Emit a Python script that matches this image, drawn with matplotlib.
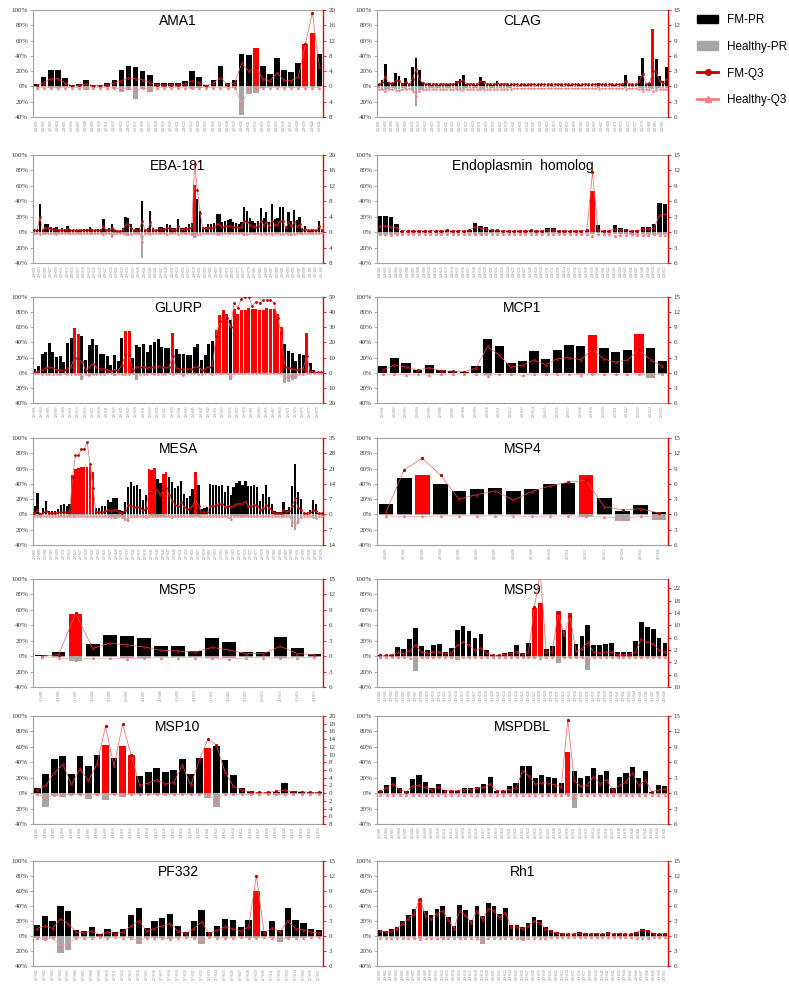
import matplotlib.pyplot as plt
import numpy as np
from matplotlib.patches import Patch
from matplotlib.lines import Line2D

plt.rcParams['font.family'] = ['Liberation Serif', 'DejaVu Serif']

# -------------------------------
# data: FM-PR / Healthy-PR in %, FM-Q3 / Healthy-Q3 on the right axis
# -------------------------------

ama1_fm_pr = [3,12,22,22,11,2,3,8,2,2, 5,9,21,27,26,20,15,5,5,5, 4,7,20,12,2,9,27,5,9,43,
              41,50,27,16,37,21,19,31,55,70, 43]
ama1_h_pr = [-1,-1,-2,-2,-1,-1,-1,-5,-1,-1, -1,-4,-7,-5,-16,-4,-7,-1,-1,-1, -1,-1,-4,-2,-1,-1,-1,-1,-2,-38,
             -10,-8,-2,-1,-1,-1,-2,-1,-1,-1, -1]
ama1_fm_q3 = [0.3,1,2,2,1,0.2,0.3,0.7,0.2,0.2, 0.5,0.9,1.5,2.2,2,1.8,1,0.4,0.4,0.4, 0.3,0.6,1.5,1,0.2,0.8,2.3,0.4,0.9,6,
              4,5,2,1.5,3.5,1.6,1.5,2.5,11,19.3, 5]
ama1_h_q3 = [-0.3,-0.3,-0.4,-0.4,-0.3,-0.3,-0.3,-0.5,-0.3,-0.3, -0.3,-0.5,-0.6,-0.5,-1,-0.5,-0.6,-0.3,-0.3,-0.3,
             -0.3,-0.3,-0.5,-0.3,-0.3,-0.3,-0.3,-0.3,-0.4,-4.5, -1,-0.8,-0.3,-0.3,-0.3,-0.3,-0.3,-0.3,-0.3,-0.3, -0.3]
ama1_red = [31, 38, 39]

clag_fm_pr = [3,8,29,6,5,17,14,4,11,2, 26,37,22,6,3,4,2,3,2,3, 2,3,2,7,10,15,3,2,3,2,
              12,7,2,3,2,7,3,2,2,2, 2,1,2,2,2,2,1,2,2,1, 2,2,1,2,2,1,2,2,1,2,
              2,1,2,2,1,4,2,2,1,2, 2,1,2,15,2,2,2,13,37,3, 5,75,36,13,7,25]
clag_h_pr = [-2,-3,-5,-3,-2,-4,-4,-2,-3,-1, -6,-26,-5,-3,-2,-2,-2,-2,-2,-2, -2,-2,-2,-3,-3,-4,-2,-2,-2,-2,
             -3,-3,-2,-2,-2,-2,-2,-2,-2,-2, -1,-1,-1,-1,-1,-1,-1,-1,-1,-1, -1,-1,-1,-1,-1,-1,-1,-1,-1,-1,
             -1,-1,-1,-1,-1,-2,-1,-1,-1,-1, -1,-1,-1,-2,-1,-1,-1,-2,-5,-2, -2,-4,-3,-2,-2,-2]
clag_fm_q3 = [0.5,0.8,2,0.6,0.6,1.2,1,0.5,0.8,0.4, 1.5,3.5,1.5,0.6,0.5,0.5,0.5,0.5,0.5,0.5,
              0.5,0.5,0.5,0.8,1,1.2,0.5,0.5,0.5,0.5, 1,0.8,0.5,0.5,0.5,0.6,0.5,0.5,0.5,0.5,
              0.4,0.4,0.4,0.4,0.4,0.4,0.4,0.4,0.4,0.4, 0.4,0.4,0.4,0.4,0.4,0.4,0.4,0.4,0.4,0.4,
              0.4,0.4,0.4,0.4,0.4,0.5,0.4,0.4,0.4,0.4, 0.4,0.4,0.4,1,0.4,0.4,0.4,1,2.5,0.5,
              0.6,3,3,1,0.6,1.5]
clag_h_q3 = [-0.6,-0.6,-0.8,-0.6,-0.5,-0.7,-0.7,-0.5,-0.6,-0.4, -0.8,-1.8,-0.8,-0.6,-0.5,-0.5,-0.5,-0.5,-0.5,-0.5,
             -0.5,-0.5,-0.5,-0.6,-0.6,-0.7,-0.5,-0.5,-0.5,-0.5, -0.6,-0.6,-0.5,-0.5,-0.5,-0.5,-0.5,-0.5,-0.5,-0.5,
             -0.4,-0.4,-0.4,-0.4,-0.4,-0.4,-0.4,-0.4,-0.4,-0.4, -0.4,-0.4,-0.4,-0.4,-0.4,-0.4,-0.4,-0.4,-0.4,-0.4,
             -0.4,-0.4,-0.4,-0.4,-0.4,-0.5,-0.4,-0.4,-0.4,-0.4, -0.4,-0.4,-0.4,-0.5,-0.4,-0.4,-0.4,-0.5,-0.9,-0.5,
             -0.5,-0.8,-0.7,-0.5,-0.5,-0.5]
clag_red = [81]

eba_fm_pr = [2,2,36,3,11,10,7,5,7,3, 5,4,8,3,3,3,3,3,4,4, 7,4,3,4,4,17,3,5,10,3,
             2,2,5,19,18,10,3,5,5,40, 3,5,28,5,3,7,7,6,11,9, 5,5,17,5,6,7,11,12,61,43,
             28,7,7,11,10,12,24,24,13,15, 16,17,13,12,10,13,32,27,18,14, 12,15,31,18,26,13,36,17,18,32,
             33,8,26,15,29,16,20,5,8,3, 3,3,3,15,3]
eba_h_pr = [-1,-1,-2,-1,-1,-1,-1,-1,-3,-1, -1,-1,-1,-1,-1,-1,-1,-1,-1,-1, -1,-1,-1,-1,-1,-2,-1,-1,-8,-1,
            -1,-1,-1,-4,-4,-2,-1,-1,-1,-33, -1,-1,-3,-1,-1,-1,-1,-1,-2,-1, -1,-1,-2,-1,-1,-1,-1,-5,-8,-3,
            -2,-1,-1,-1,-1,-1,-2,-2,-1,-1, -1,-1,-1,-1,-1,-1,-5,-2,-1,-1, -1,-1,-2,-1,-2,-1,-2,-1,-1,-2,
            -2,-1,-2,-5,-2,-1,-1,-1,-1,-1, -1,-1,-1,-1,-1]
eba_fm_q3 = [0.5,0.5,4,0.6,1.2,1,0.8,0.6,0.8,0.5, 0.6,0.5,0.8,0.5,0.5,0.5,0.5,0.5,0.5,0.5,
             0.8,0.5,0.5,0.5,0.5,1.5,0.5,0.6,1,0.5, 0.4,0.4,0.6,2,2,1,0.5,0.6,0.6,3,
             0.5,0.6,2.5,0.6,0.5,0.8,0.8,0.7,1,1, 0.6,0.6,1.5,0.6,0.7,0.8,1,1.2,17.6,11,
             5,1,1,1.2,1.2,1.3,2,2,1.4,1.5, 1.5,1.6,1.4,1.3,1.2,1.4,3,2.5,1.8,1.5,
             1.3,1.5,2.8,1.8,2.5,1.4,3,1.8,1.8,3, 3,1,2.5,1.5,2.5,1.6,2,0.6,0.8,0.5,
             0.5,0.5,0.5,1.5,0.5]
eba_h_q3 = [-0.3,-0.3,-0.4,-0.3,-0.3,-0.3,-0.3,-0.3,-0.5,-0.3, -0.3,-0.3,-0.3,-0.3,-0.3,-0.3,-0.3,-0.3,-0.3,-0.3,
            -0.3,-0.3,-0.3,-0.3,-0.3,-0.4,-0.3,-0.3,-0.8,-0.3, -0.3,-0.3,-0.3,-0.5,-0.5,-0.4,-0.3,-0.3,-0.3,-2.5,
            -0.3,-0.3,-0.5,-0.3,-0.3,-0.3,-0.3,-0.3,-0.4,-0.3, -0.3,-0.3,-0.4,-0.3,-0.3,-0.3,-0.3,-0.6,-1,-0.5,
            -0.4,-0.3,-0.3,-0.3,-0.3,-0.3,-0.4,-0.4,-0.3,-0.3, -0.3,-0.3,-0.3,-0.3,-0.3,-0.3,-0.6,-0.4,-0.3,-0.3,
            -0.3,-0.3,-0.4,-0.3,-0.4,-0.3,-0.4,-0.3,-0.3,-0.4, -0.4,-0.3,-0.4,-0.6,-0.4,-0.3,-0.3,-0.3,-0.3,-0.3,
            -0.3,-0.3,-0.3,-0.3,-0.3]
eba_red = [58]

endo_fm_pr = [21,21,20, 11,2,2,2,2,2,2,2,2,3, 2,2,2,3,12,8,7,3,3,2, 2,2,2,2,3,2,2,5,5,2,
              2,2,2,2,2,53,9,1,1,9, 5,4,2,3,7,7,10,38,36]
endo_h_pr = [-3,-3,-4, -2,-1,-1,-1,-1,-1,-1,-1,-1,-1, -1,-1,-1,-1,-2,-2,-2,-1,-1,-1, -1,-1,-1,-1,-1,-1,-1,-1,-1,-1,
             -1,-1,-1,-1,-1,-3,-1,-1,-1,-3, -3,-2,-2,-3,-3,-3,-2,-3,-3]
endo_fm_q3 = [1.2,1.2,1, 0.8,0.3,0.3,0.3,0.3,0.3,0.3,0.3,0.3,0.4, 0.3,0.3,0.3,0.4,1,0.8,0.6,0.4,0.4,0.3,
              0.3,0.3,0.3,0.3,0.4,0.3,0.3,0.5,0.5,0.3, 0.3,0.3,0.3,0.3,0.4,11.6,0.5,0.3,0.3,0.6,
              0.5,0.4,0.3,0.3,0.6,0.6,0.8,3.3,3.5]
endo_h_q3 = [-0.4,-0.4,-0.5, -0.4,-0.3,-0.3,-0.3,-0.3,-0.3,-0.3,-0.3,-0.3,-0.3, -0.3,-0.3,-0.3,-0.3,-0.4,-0.4,-0.3,-0.3,-0.3,-0.3,
             -0.3,-0.3,-0.3,-0.3,-0.3,-0.3,-0.3,-0.3,-0.3,-0.3, -0.3,-0.3,-0.3,-0.3,-0.3,-0.7,-0.4,-0.3,-0.3,-0.8,
             -0.6,-0.5,-0.4,-0.5,-0.5,-0.5,-0.4,-0.5,-0.5]
endo_red = [38]

glurp_fm_pr = [5,9,25,28,39,28,21,22,14,39, 46,59,51,48,17,36,44,37,25,25, 22,10,23,15,46,55,55,20,37,34,
               38,28,36,41,45,34,32,32,53,31, 25,25,24,23,34,38,17,23,38,42, 57,76,83,78,70,84,78,83,83,85,
               84,84,83,83,85,84,84,77,61,38, 29,26,15,25,24,52,13,3,1,1]
glurp_h_pr = [-1,-1,-2,-2,-2,-1,-2,-3,-1,-2, -2,-2,-2,-10,-2,-5,-3,-3,-2,-2, -1,-1,-4,-1,-2,-2,-2,-1,-10,-2,
              -2,-2,-1,-3,-2,-2,-2,-1,-2,-1, -1,-5,-1,-1,-1,-2,-2,-1,-1,-2, -1,-1,-1,-1,-10,-1,-1,-1,-1,-1,
              -1,-1,-1,-1,-1,-1,-1,-1,-1,-14, -12,-9,-8,-2,-2,-1,-1,-1,-1,-1]
glurp_fm_q3 = [0.5,1,2,3,4,3,2,2,1.5,3, 4,10,9,7,2,4,6,4,2.5,2.5, 2,1,2,1.5,5,12,12,2,4,3.5,
               4,3,3.5,4,4.5,3.5,3.5,3.5,11,3, 2.5,2.5,2.5,2.5,3.5,4,2,2.5,4,5, 24,34,38,36,30,46,43,49,50,50,
               44,47,46,48,48,48,46,36,26,4, 3,2.5,2,2.5,2.5,11,1,0.5,0.3,0.3]
glurp_h_q3 = [-0.5,-0.5,-0.8,-0.8,-0.8,-0.6,-0.8,-1,-0.5,-0.8, -0.8,-0.8,-0.8,-2,-0.8,-1.2,-1,-1,-0.8,-0.8,
              -0.5,-0.5,-1,-0.5,-0.8,-0.8,-0.8,-0.5,-2,-0.8, -0.8,-0.8,-0.5,-1,-0.8,-0.8,-0.8,-0.5,-0.8,-0.5,
              -0.5,-1.2,-0.5,-0.5,-0.5,-0.8,-0.8,-0.5,-0.5,-0.8, -0.5,-0.5,-0.5,-0.5,-2,-0.5,-0.5,-0.5,-0.5,-0.5,
              -0.5,-0.5,-0.5,-0.5,-0.5,-0.5,-0.5,-0.5,-0.5,-2.8, -2.3,-1.8,-1.6,-0.8,-0.8,-0.5,-0.5,-0.5,-0.5,-0.5]
glurp_red = [11,12,25,26,38,50,51,52,53,55,56,57,58,59,60,61,62,63,64,65,66,67,68,75]

mcp1_fm_pr = [9,20,13,4,10,3,2,1.5,9,44, 35,13,16,29,18,30,37,35,50,32, 27,30,51,32,15]
mcp1_h_pr = [-1,-1,-1,-1,-2,-1,-1,-1,-1,-3, -1,-1,-1,-1,-1,-1,-1,-2,-1,-1, -1,-1,-1,-7,-2]
mcp1_fm_q3 = [0.5,1.5,1.1,0.5,1,0.4,0.3,0.2,0.9,5.2, 3.5,1.1,1.5,2.5,1.6,2.8,3,2.6,4.6,2.7, 2.1,2.5,4.5,2.6,1.3]
mcp1_h_q3 = [-0.3,-0.3,-0.4,-0.3,-0.5,-0.3,-0.3,-0.2,-0.3,-0.6, -0.3,-0.3,-0.5,-0.3,-0.3,-0.3,-0.3,-0.4,-0.3,-0.3,
             -0.3,-0.3,-0.3,-0.5,-0.3]
mcp1_red = [18, 22]

mesa_fm_pr = [11,28,2,9,17,5,5,5,7,12, 13,11,14,51,60,61,62,62,62,63, 56,8,9,11,11,19,16,22,22,6,
              4,16,36,43,37,39,33,19,25,60, 58,61,47,41,53,55,49,42,35,37, 44,27,21,24,33,55,38,7,9,10,
              40,39,39,37,38,30,37,25,36,41, 44,38,44,37,37,39,36,18,27,39, 23,13,5,3,3,16,6,10,37,66,
              30,20,2,2,6,19,13,2,2]
mesa_h_pr = [-1,-2,-1,-1,-2,-1,-1,-1,-1,-2, -2,-1,-2,-1,-1,-1,-1,-1,-1,-1, -1,-1,-1,-1,-2,-2,-3,-4,-4,-2,
             -4,-8,-10,-2,-2,-2,-1,-2,-3,-2, -2,-2,-2,-2,-2,-2,-2,-3,-2,-2, -2,-2,-1,-2,-2,-2,-2,-1,-1,-1,
             -2,-2,-2,-2,-2,-2,-3,-8,-2,-2, -2,-2,-2,-2,-2,-2,-2,-1,-2,-2, -2,-1,-1,-1,-1,-2,-1,-1,-17,-20,
             -12,-3,-1,-1,-1,-4,-5,-1,-1]
mesa_fm_q3 = [0.5,2,0.3,1,1.5,0.8,0.8,0.8,1,1.2, 1.2,1,1.2,17,27,27,30,30,33,23, 12,1,1,1,1.5,2,1.5,2,2,1,
              0.8,2,4.5,4,3.5,3.5,3,2,3,10, 11,12,11,9,11,12,9,6,4.5,4, 5.5,3.5,2.5,3,4,7,4,1,1,1,
              4,4,4.5,5,5,3.5,4,3.5,4,5, 5,5,6,4,4,4.5,4,2,3,4.5, 3,1.5,0.8,0.5,0.5,2,1,1.5,4,7.5,
              3,2,0.5,0.5,1,2,1.5,0.5,0.5]
mesa_h_q3 = [-0.5,-0.8,-0.5,-0.6,-0.8,-0.6,-0.6,-0.6,-0.6,-0.8, -0.8,-0.6,-0.8,-0.6,-0.6,-0.6,-0.6,-0.6,-0.6,-0.6,
             -0.6,-0.6,-0.6,-0.6,-0.8,-0.8,-1,-1.2,-1.2,-0.8, -1.2,-2,-2.5,-0.8,-0.8,-0.8,-0.6,-0.8,-1,-0.8,
             -0.8,-0.8,-0.8,-0.8,-0.8,-0.8,-0.8,-1,-0.8,-0.8, -0.8,-0.8,-0.6,-0.8,-0.8,-0.8,-0.8,-0.6,-0.6,-0.6,
             -0.8,-0.8,-0.8,-0.8,-0.8,-0.8,-1,-2,-0.8,-0.8, -0.8,-0.8,-0.8,-0.8,-0.8,-0.8,-0.8,-0.6,-0.8,-0.8,
             -0.8,-0.6,-0.6,-0.6,-0.6,-0.8,-0.6,-0.6,-3.5,-4.5, -3,-1,-0.6,-0.6,-0.6,-1.2,-1.5,-0.6,-0.6]
mesa_red = [13,14,15,16,17,18,19,20,39,40,41,44,45,55]

msp4_fm_pr = [14,48,51,40,31,33,34,31,33,40,41,51,21,4,12,3]
msp4_h_pr = [-1,-1,-1,-1,-1,-1,-1,-1,-1,-1,-1,-3,-1,-8,-1,-7]
msp4_fm_q3 = [0.5,8.8,11,7.7,3,3.9,4.6,2.8,4.5,5.6,6.3,6.7,1.5,0.9,1.1,0.3]
msp4_h_q3 = [-0.3,-0.4,-0.4,-0.3,-0.3,-0.3,-0.3,-0.3,-0.4,-0.3,-0.3,-0.4,-0.5,-0.8,-0.4,-0.5]
msp4_red = [2, 11]

msp5_fm_pr = [1,5,55,16,27,26,23,13,13,7,23,18,5,5,25,10,3]
msp5_h_pr = [0,-1,-6,-1,-1,-2,-2,-1,-1,-1,-2,-3,-1,-1,-2,-1,-1]
msp5_fm_q3 = [0,0.3,8.3,1.5,2.5,2.2,1.8,1.1,1,0.8,1.7,1.2,0.5,0.5,1.9,0.5,0.3]
msp5_h_q3 = [-0.1,-0.3,-0.7,-0.4,-0.4,-0.5,-0.4,-0.3,-0.3,-0.3,-0.4,-0.6,-0.3,-0.3,-0.4,-0.3,-0.2]
msp5_red = [2]

msp9_fm_pr = [1,1,2, 12,9,22,36,13,8,15,16,6,11, 34,39,32,23,29,8,2,2,4,6, 15,4,17,62,69,9,13,58,34,56,
              16,26,41,14,14,16,17,6,6,6, 20,44,38,35,23,17]
msp9_h_pr = [-1,-1,-1, -1,-1,-1,-19,-1,-1,-1,-1,-1,-1, -5,-1,-1,-1,-1,-1,-1,-1,-1,-1, -1,-1,-1,-1,-1,-1,-1,-9,-1,-1,
             -1,-1,-18,-1,-1,-1,-1,-1,-1,-1, -1,-1,-1,-1,-1,-1]
msp9_fm_q3 = [0.3,0.3,0.5, 1.2,0.8,1.8,3.6,1.3,1,1.2,1.5,0.8,1, 3.5,4.5,3.5,2,2.5,1,0.3,0.3,0.5,0.8,
              1.5,0.5,1.2,16,27,1.3,1.5,14,7,13, 1.6,2.4,4.5,1.2,1,1.2,1.3,0.5,0.5,0.5, 1.5,5.5,4.7,4,2,1.5]
msp9_h_q3 = [-0.2,-0.2,-0.3, -0.4,-0.3,-0.5,-1,-0.4,-0.3,-0.4,-0.4,-0.3,-0.3, -0.6,-0.4,-0.4,-0.3,-0.3,-0.3,-0.2,-0.2,-0.2,-0.3,
             -0.3,-0.3,-0.4,-0.4,-0.5,-0.3,-0.3,-0.6,-0.4,-0.4, -0.3,-0.4,-1,-0.3,-0.3,-0.3,-0.3,-0.3,-0.3,-0.3,
             -0.3,-0.4,-0.4,-0.4,-0.3,-0.3]
msp9_red = [26, 27, 30, 32]

msp10_fm_pr = [7,25,44,48,25,48,35,50,62,46, 61,50,22,28,33,28,30,44,25,46, 59,61,43,23,7,3,1,1,2,13, 3,1,1,1]
msp10_h_pr = [-1,-18,-4,-5,-2,-2,-7,-2,-9,-2, -5,-1,-1,-1,-2,-1,-1,-1,-1,-1, -6,-18,-1,-1,-1,-2,-1,-1,-2,-1, -1,-1,-1,-1]
msp10_fm_q3 = [0.8,2,5.2,7.5,2.3,6.2,3.3,7.5,17.3,7, 17.8,10,2,2.7,3.3,2.5,2.7,7.3,2,8.5,
               14,12.5,5.5,1.8,0.8,0.3,0.2,0.2,0.5,0.8, 0.3,0.4,0.2,0.2]
msp10_h_q3 = [-0.3,-1.1,-0.4,-0.4,-0.3,-0.3,-0.6,-0.3,-0.7,-0.3, -0.5,-0.3,-0.3,-0.3,-0.3,-0.3,-0.3,-0.3,-0.3,-0.3,
              -0.6,-1.5,-0.3,-0.3,-0.3,-0.3,-0.2,-0.2,-0.3,-0.3, -0.2,-0.2,-0.2,-0.2]
msp10_red = [8, 10, 11, 20]

mspdbl_fm_pr = [3,11, 21,7,3,18,23,14,7,12,4,3, 3,7,7,8,12,21,3,3,9,13, 35,35,19,24,21,19,13,53,29,19,
                22,32,23,29,7,21,26,34,20,29, 2,10,9]
mspdbl_h_pr = [-1,-1, -1,-1,-1,-1,-1,-1,-1,-1,-1,-1, -1,-1,-1,-1,-1,-1,-1,-1,-1,-1, -1,-1,-1,-1,-1,-1,-1,-2,-19,-1,
               -1,-1,-1,-1,-1,-1,-1,-1,-1,-1, -1,-1,-1]
mspdbl_fm_q3 = [0.4,1, 1.8,0.7,0.3,1.4,1.5,1.1,0.6,1.2,0.5,0.5, 0.5,0.7,0.7,1,1.1,1.8,0.4,0.5,0.7,1,
                4.3,3.3,1.8,2,2,1.6,1.2,14.3,2.5,1.3, 1.6,3.2,1.8,2.6,0.5,1.5,2.2,3.9,1.5,2.6, 0.2,0.7,0.8]
mspdbl_h_q3 = [-0.3,-0.3, -0.3,-0.3,-0.3,-0.3,-0.3,-0.3,-0.3,-0.3,-0.3,-0.3, -0.3,-0.3,-0.3,-0.3,-0.3,-0.3,-0.3,-0.3,-0.3,-0.3,
               -0.3,-0.3,-0.3,-0.3,-0.3,-0.3,-0.3,-0.4,-0.8,-0.3, -0.3,-0.3,-0.3,-0.3,-0.3,-0.3,-0.3,-0.3,-0.3,-0.3,
               -0.3,-0.3,-0.3]
mspdbl_red = [29]

pf332_fm_pr = [15,27,20,40,33,8,7,12,3,10, 5,9,28,38,11,20,24,30,13,5, 20,35,5,14,23,22,12,21,60,7, 20,8,37,21,18,10,8]
pf332_h_pr = [-2,-5,-3,-22,-18,-2,-1,-2,-1,-2, -1,-1,-3,-10,-2,-2,-3,-4,-2,-1, -2,-10,-1,-2,-3,-2,-1,-2,-3,-1,
              -2,-8,-3,-2,-2,-1,-1]
pf332_fm_q3 = [1.5,2,1.5,3.5,2.5,0.8,0.7,1,0.3,0.8, 0.5,0.8,2,3,1,1.5,2,2.5,1,0.5,
               1.5,2.8,0.5,1.2,1.8,1.5,1,1.8,12,0.6, 1.6,0.8,3,1.5,1.2,0.8,0.6]
pf332_h_q3 = [-0.3,-0.6,-0.4,-2,-1.6,-0.3,-0.3,-0.3,-0.2,-0.3, -0.2,-0.3,-0.4,-1,-0.3,-0.3,-0.4,-0.5,-0.3,-0.2,
              -0.3,-1,-0.2,-0.3,-0.4,-0.3,-0.2,-0.3,-0.4,-0.2, -0.3,-0.8,-0.4,-0.3,-0.3,-0.2,-0.2]
pf332_red = [28]

rh1_fm_pr = [8,7,9,12,20,28,36,50,33,28, 36,40,26,13,42,35,22,40,27,44, 40,30,38,15,15,12,17,25,21,12,
             8,5,4,3,3,5,4,3,4,3, 5,3,4,3,3,6,10,8,4,3, 4]
rh1_h_pr = [-1,-1,-1,-1,-1,-1,-2,-2,-1,-1, -1,-2,-1,-1,-2,-1,-1,-2,-10,-1, -1,-1,-1,-1,-1,-5,-1,-1,-1,-1,
            -1,-1,-1,-1,-1,-1,-1,-1,-1,-1, -1,-1,-1,-1,-1,-1,-1,-1,-1,-1, -1]
rh1_fm_q3 = [1,0.8,1,1.5,2.5,3.5,4.5,7.5,4,3.5, 4.5,5,3.3,1.5,5,4.2,2.7,5,3.3,5.5, 5,3.7,4.7,1.8,1.8,1.5,2,3,2.6,1.5,
             1,0.6,0.5,0.4,0.4,0.6,0.5,0.4,0.5,0.4, 0.6,0.4,0.5,0.4,0.4,0.7,1.2,1,0.5,0.4, 0.5]
rh1_h_q3 = [-0.3,-0.3,-0.3,-0.3,-0.3,-0.4,-0.4,-0.5,-0.4,-0.3, -0.4,-0.4,-0.3,-0.3,-0.4,-0.3,-0.3,-0.4,-1,-0.3,
            -0.3,-0.3,-0.3,-0.3,-0.3,-0.6,-0.3,-0.3,-0.3,-0.3, -0.2,-0.2,-0.2,-0.2,-0.2,-0.2,-0.2,-0.2,-0.2,-0.2,
            -0.2,-0.2,-0.2,-0.2,-0.2,-0.3,-0.3,-0.3,-0.2,-0.2, -0.2]
rh1_red = [7]

# title, label prefix, data, red bars, right axis (min, max, step)
panels = [
    ("AMA1", "201", ama1_fm_pr, ama1_h_pr, ama1_fm_q3, ama1_h_q3, ama1_red, (-8, 20, 4)),
    ("CLAG", "202", clag_fm_pr, clag_h_pr, clag_fm_q3, clag_h_q3, clag_red, (-6, 15, 3)),
    ("EBA-181", "203", eba_fm_pr, eba_h_pr, eba_fm_q3, eba_h_q3, eba_red, (-8, 20, 4)),
    ("Endoplasmin  homolog", "204", endo_fm_pr, endo_h_pr, endo_fm_q3, endo_h_q3, endo_red, (-6, 15, 3)),
    ("GLURP", "205", glurp_fm_pr, glurp_h_pr, glurp_fm_q3, glurp_h_q3, glurp_red, (-20, 50, 10)),
    ("MCP1", "206", mcp1_fm_pr, mcp1_h_pr, mcp1_fm_q3, mcp1_h_q3, mcp1_red, (-6, 15, 3)),
    ("MESA", "207", mesa_fm_pr, mesa_h_pr, mesa_fm_q3, mesa_h_q3, mesa_red, (-14, 35, 7)),
    ("MSP4", "210", msp4_fm_pr, msp4_h_pr, msp4_fm_q3, msp4_h_q3, msp4_red, (-6, 15, 3)),
    ("MSP5", "211", msp5_fm_pr, msp5_h_pr, msp5_fm_q3, msp5_h_q3, msp5_red, (-6, 15, 3)),
    ("MSP9", "213", msp9_fm_pr, msp9_h_pr, msp9_fm_q3, msp9_h_q3, msp9_red, (-10, 25, 4)),
    ("MSP10", "214", msp10_fm_pr, msp10_h_pr, msp10_fm_q3, msp10_h_q3, msp10_red, (-8, 20, 2)),
    ("MSPDBL", "216", mspdbl_fm_pr, mspdbl_h_pr, mspdbl_fm_q3, mspdbl_h_q3, mspdbl_red, (-6, 15, 3)),
    ("PF332", "217", pf332_fm_pr, pf332_h_pr, pf332_fm_q3, pf332_h_q3, pf332_red, (-6, 15, 3)),
    ("Rh1", "219", rh1_fm_pr, rh1_h_pr, rh1_fm_q3, rh1_h_q3, rh1_red, (-6, 15, 3)),
]

W, H = 789, 991
rows = [(10, 117), (155, 263), (297, 403), (438, 545), (579, 687), (716, 824), (861, 966)]
cols = [(33, 323), (377, 668)]

fig = plt.figure(figsize=(W / 100, H / 100), dpi=100)

for k, (title, code, fm, hp, q3, hq3, red, (lo, hi, step)) in enumerate(panels):
    r, c = divmod(k, 2)
    top, bot = rows[r]
    left, right = cols[c]
    ax = fig.add_axes([left / W, 1 - bot / H, (right - left) / W, (bot - top) / H])

    n = len(fm)
    x = np.arange(n)
    colors = ['#ff0000' if i in red else 'black' for i in x]
    ax.bar(x, fm, width=0.8, color=colors, zorder=2)
    ax.bar(x, hp, width=0.8, color='#a6a6a6', zorder=2)
    ax.set_xlim(-0.5, n - 0.5)
    ax.set_ylim(-40, 100)
    yt = list(range(-40, 101, 20))
    ax.set_yticks(yt)
    ax.set_yticklabels([f"{abs(v)}%" for v in yt])
    ax.tick_params(axis='y', labelsize=5, length=2, width=0.5, color='#888888', labelcolor='#333333', pad=1.5)

    every = 1 if n <= 60 else 2
    ax.set_xticks(x[::every])
    ax.set_xticklabels([f"{code}-{i + 1:03d}" for i in x[::every]], rotation=90,
                       fontsize=2.5, color='#808080')
    ax.tick_params(axis='x', length=0, pad=2)

    for s in ['top', 'left', 'bottom']:
        ax.spines[s].set_color('#a0a0a0')
        ax.spines[s].set_linewidth(0.8)
    ax.spines['right'].set_visible(False)

    ax.text(0.5, 0.9, title, transform=ax.transAxes, ha='center', va='center',
            fontsize=10, family='Liberation Sans', zorder=5)

    ms = 1.3 if n <= 60 else 1.0
    ax2 = ax.twinx()
    ax2.plot(x, q3, color='#e86060', lw=0.5, marker='o', ms=ms,
             mfc='#b00000', mec='#b00000', zorder=3)
    ax2.plot(x, hq3, color='#f4a0a0', lw=0.5, marker='^', ms=ms,
             mfc='#f08080', mec='#f08080', zorder=3)
    ax2.set_ylim(lo, hi)
    rt = np.arange(lo, hi + 0.01, step)
    ax2.set_yticks(rt)
    ax2.set_yticklabels([str(abs(int(round(t)))) for t in rt])
    ax2.tick_params(axis='y', labelsize=5, length=2.5, width=0.6, color='#e00000', labelcolor='#333333', pad=1.5)
    for s in ['top', 'left', 'bottom']:
        ax2.spines[s].set_visible(False)
    ax2.spines['right'].set_color('#e00000')
    ax2.spines['right'].set_linewidth(1.0)

handles = [
    Patch(color='black'),
    Patch(color='#a6a6a6'),
    Line2D([], [], color='#c00000', lw=2, marker='o', ms=4),
    Line2D([], [], color='#f08080', lw=2, marker='^', ms=4),
]
fig.legend(handles, ['FM-PR', 'Healthy-PR', 'FM-Q3', 'Healthy-Q3'], loc='upper left',
           bbox_to_anchor=(697 / W, 1 - 14 / H), frameon=False, borderpad=0, borderaxespad=0,
           prop={'family': 'Liberation Sans', 'size': 8.5}, labelspacing=1.25,
           handlelength=1.8, handletextpad=0.75)

fig.savefig('out.png', dpi=100, facecolor='white')
